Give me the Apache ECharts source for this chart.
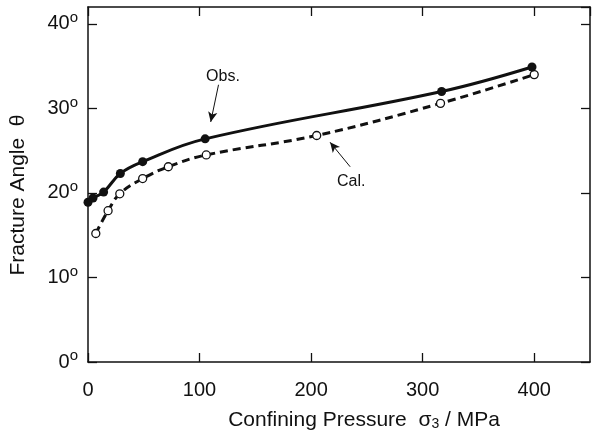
<!DOCTYPE html>
<html><head><meta charset="utf-8">
<script src="https://cdn.jsdelivr.net/npm/echarts@6/dist/echarts.min.js"></script>
<style>html,body{margin:0;padding:0;background:#fff}#c{width:593px;height:435px}</style>
</head><body><div id="c"></div>
<script>
// Observed fracture angle (filled circles, solid curve)
const obsX = [0, 4.5, 14, 29, 49, 105, 317, 398];
const obsY = [18.9, 19.4, 20.1, 22.3, 23.7, 26.4, 32.0, 34.9];
// Calculated fracture angle (open circles, dashed curve)
const calX = [7, 18, 28.5, 49, 72, 106, 205, 316, 400];
const calY = [15.2, 17.9, 19.9, 21.7, 23.1, 24.5, 26.8, 30.6, 34.0];
const xTickLabels = ['0', '100', '200', '300', '400'];
const yTickLabels = ['0', '10', '20', '30', '40'];
const noteText = ['Obs.', 'Cal.'];
const noteAt = [[121, 33.8], [236, 21.4]];
const arrowFrom = [[117, 32.8], [235, 23.1]];
const arrowTo = [[110, 28.4], [217, 26.0]];

const FONT = 'Liberation Sans, Arial, Helvetica, sans-serif';
const INK = '#111';
const chart = echarts.init(document.getElementById('c'));

const obs = obsX.map((x, i) => [x, obsY[i]]);
const cal = calX.map((x, i) => [x, calY[i]]);

function baseX(pos, labels) {
  return {
    type: 'value', position: pos, min: 0, max: 450, interval: 100,
    axisLine: { show: true, onZero: false, lineStyle: { color: INK, width: 1.5 } },
    axisTick: { show: true, inside: true, length: 9, lineStyle: { color: INK, width: 1.3 } },
    axisLabel: {
      show: labels, fontSize: 20, color: INK, fontFamily: FONT, margin: 18,
      showMaxLabel: false,
      formatter: v => xTickLabels.includes(String(v)) ? String(v) : ''
    },
    splitLine: { show: false }
  };
}
function baseY(pos, labels) {
  return {
    type: 'value', position: pos, min: 0, max: 42, interval: 10,
    axisLine: { show: true, onZero: false, lineStyle: { color: INK, width: 1.5 } },
    axisTick: { show: true, inside: true, length: 9, lineStyle: { color: INK, width: 1.3 } },
    axisLabel: {
      show: labels, color: INK, fontFamily: FONT, margin: 10,
      showMaxLabel: false,
      formatter: v => yTickLabels.includes(String(v)) ? '{n|' + v + '}{d|o}' : '',
      rich: {
        n: { fontSize: 20, fontFamily: FONT, color: INK, lineHeight: 22 },
        d: { fontSize: 15, fontFamily: FONT, color: INK, padding: [0, 0, 12, 0] }
      }
    },
    splitLine: { show: false }
  };
}

chart.setOption({
  animation: false,
  backgroundColor: '#fff',
  grid: { left: 88, right: 3, top: 7, bottom: 73 },
  xAxis: [baseX('bottom', true), baseX('top', false)],
  yAxis: [baseY('left', true), baseY('right', false)],
  graphic: [
    {
      type: 'text', x: 18, y: 195, rotation: Math.PI / 2,
      style: {
        text: 'Fracture Angle  θ', fontSize: 21, fontFamily: FONT, fill: INK,
        align: 'center', verticalAlign: 'middle'
      }
    },
    {
      type: 'text', x: 364, y: 420,
      style: {
        text: '{t|Confining Pressure  σ}{s|3}{t| / MPa}',
        align: 'center', verticalAlign: 'middle',
        rich: {
          t: { fontSize: 21, fontFamily: FONT, fill: INK, color: INK },
          s: { fontSize: 14, fontFamily: FONT, fill: INK, color: INK, padding: [9, 0, 0, 0] }
        }
      }
    }
  ],
  series: [
    {
      type: 'line', data: cal, smooth: 0.4, symbol: 'circle', symbolSize: 8,
      lineStyle: { color: INK, width: 3, type: [8, 5] },
      itemStyle: { color: '#fff', borderColor: INK, borderWidth: 1.3 },
      z: 3
    },
    {
      type: 'line', data: obs, smooth: 0.4, symbol: 'circle', symbolSize: 9,
      lineStyle: { color: INK, width: 3 },
      itemStyle: { color: INK, borderColor: INK, borderWidth: 0 },
      z: 4
    },
    {
      type: 'scatter', data: noteAt.map((p, i) => ({ value: p, name: noteText[i] })),
      symbolSize: 0, silent: true,
      itemStyle: { opacity: 1, color: INK },
      label: {
        show: true, position: 'inside', formatter: p => p.name,
        fontSize: 16, fontFamily: FONT, color: INK,
        textBorderWidth: 0, textBorderColor: 'transparent'
      },
      markLine: {
        silent: true, symbol: ['none', 'arrow'], symbolSize: [7, 10], precision: 2,
        label: { show: false },
        lineStyle: { color: INK, width: 1, type: 'solid' },
        data: arrowFrom.map((f, i) => [{ coord: f }, { coord: arrowTo[i] }])
      }
    }
  ]
});
</script>
</body></html>
